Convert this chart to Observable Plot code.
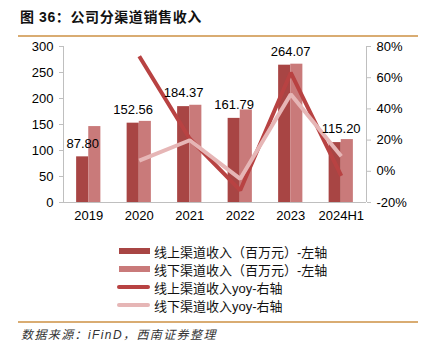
<!DOCTYPE html>
<html>
<head>
<meta charset="utf-8">
<script src="https://cdn.jsdelivr.net/npm/d3@7"></script>
<script src="https://cdn.jsdelivr.net/npm/@observablehq/plot@0.6"></script>
<style>
  html, body { margin: 0; padding: 0; background: #fff; }
  #wrap { position: relative; width: 426px; height: 350px; overflow: hidden; font-family: "Liberation Sans", Arial, "Noto Sans CJK SC", sans-serif; }
  #title { position: absolute; left: 20px; top: 6px; font-size: 14px; font-weight: bold; letter-spacing: 0.6px; color: #111; font-family: "Liberation Sans", Arial, "Noto Sans CJK SC", sans-serif; white-space: nowrap; }
  .hr { position: absolute; left: 18px; width: 400px; height: 2px; background: #d9ac72; }
  #source { position: absolute; left: 21px; top: 325px; font-size: 12px; font-style: italic; letter-spacing: 1.4px; color: #333; white-space: nowrap; font-family: "Liberation Sans", Arial, "Noto Sans CJK SC", sans-serif; }
  .leg { position: absolute; left: 117px; height: 18px; display: flex; align-items: center; font-size: 13px; color: #111; white-space: nowrap; font-family: "Liberation Sans", Arial, "Noto Sans CJK SC", sans-serif; }
  .sw { display: inline-block; margin-right: 4px; }
</style>
</head>
<body>
<div id="wrap">
  <div id="title"></div>
  <div class="hr" style="top:35px"></div>
  <div id="plot"></div>
  <div id="legend"></div>
  <div class="hr" style="top:321px"></div>
  <div id="source"></div>
</div>
<script>
// ---- data ----
const titleText = "图 36：公司分渠道销售收入";
const sourceText = "数据来源：iFinD，西南证券整理";
const years = ["2019", "2020", "2021", "2022", "2023", "2024H1"];
const onlineRevenue = [87.80, 152.56, 184.37, 161.79, 264.07, 115.20];
const offlineRevenue = [146, 156, 187, 178, 266, 121];
const onlineYoy = [null, 73.8, 20.9, -12.2, 63.2, -3.0];
const offlineYoy = [null, 6.8, 19.9, -4.8, 49.4, 9.6];
const leftTicks = [0, 50, 100, 150, 200, 250, 300];
const rightTicks = [-20, 0, 20, 40, 60, 80];
const seriesNames = ["线上渠道收入（百万元）-左轴", "线下渠道收入（百万元）-左轴", "线上渠道收入yoy-右轴", "线下渠道收入yoy-右轴"];

// ---- styles ----
const cOnlineBar = "#a84544";
const cOfflineBar = "#c97a7a";
const cOnlineLine = "#b84242";
const cOfflineLine = "#e6b6b6";
const axisGray = "#bfbfbf";

// map right-axis percent onto left-axis units: -20% -> 0, 80% -> 300
const pctToLeft = p => (p + 20) * 3;
const leftToPct = v => Math.round(v / 3 - 20);

const barW = 0.24;
const rows = years.map((y, i) => ({i, year: y, on: onlineRevenue[i], off: offlineRevenue[i], onY: onlineYoy[i], offY: offlineYoy[i]}));
const onLine = rows.filter(d => d.onY != null);
const offLine = rows.filter(d => d.offY != null);

document.getElementById("title").textContent = titleText;
document.getElementById("source").textContent = sourceText;

const chart = Plot.plot({
  width: 426,
  height: 225,
  marginTop: 46,
  marginBottom: 23,
  marginLeft: 63,
  marginRight: 60,
  style: {fontFamily: '"Liberation Sans", Arial, sans-serif', fontSize: "13px", color: "#000", background: "transparent", overflow: "visible"},
  x: {type: "linear", domain: [-0.5, years.length - 0.5], axis: null},
  y: {domain: [0, 300], axis: null},
  marks: [
    Plot.rect(rows, {x1: d => d.i - barW, x2: d => d.i, y1: () => 0, y2: "on", fill: cOnlineBar}),
    Plot.rect(rows, {x1: d => d.i, x2: d => d.i + barW, y1: () => 0, y2: "off", fill: cOfflineBar}),
    Plot.ruleX([-0.5, years.length - 0.5], {y1: 0, y2: 300, stroke: axisGray}),
    Plot.ruleY([0], {stroke: axisGray}),
    Plot.axisY({anchor: "left", ticks: leftTicks, tickSize: 4, tickPadding: 6, label: null, stroke: axisGray, color: "#000", fill: "#000"}),
    Plot.axisY({anchor: "right", ticks: rightTicks.map(pctToLeft), tickFormat: d => leftToPct(d) + "%", tickSize: 4, tickPadding: 6, label: null, stroke: axisGray, fill: "#000"}),
    Plot.axisX({ticks: years.map((y, i) => i), tickFormat: i => years[i], tickSize: 0, tickPadding: 8, label: null, fill: "#000"}),
    Plot.line(onLine, {x: "i", y: d => pctToLeft(d.onY), stroke: cOnlineLine, strokeWidth: 4, strokeLinecap: "butt", strokeLinejoin: "miter"}),
    Plot.line(offLine, {x: "i", y: d => pctToLeft(d.offY), stroke: cOfflineLine, strokeWidth: 4, strokeLinecap: "butt", strokeLinejoin: "miter"}),
    Plot.text(rows.slice(0, 4), {x: d => d.i - barW / 2, y: "on", text: d => d.on.toFixed(2), dy: -13.5, fill: "#000", fontSize: 13}),
    Plot.text(rows.slice(4), {x: d => d.i - barW / 2, y: "on", text: d => d.on.toFixed(2), dy: -13.5, dx: 6, fill: "#000", fontSize: 13})
  ]
});
chart.style.position = "absolute";
chart.style.left = "0px";
chart.style.top = "0px";
document.getElementById("plot").appendChild(chart);

// ---- legend ----
const legendSpecs = [
  {name: seriesNames[0], color: cOnlineBar, type: "bar"},
  {name: seriesNames[1], color: cOfflineBar, type: "bar"},
  {name: seriesNames[2], color: cOnlineLine, type: "line"},
  {name: seriesNames[3], color: cOfflineLine, type: "line"}
];
const legendTops = [242, 260, 278, 296];
const legend = document.getElementById("legend");
legendSpecs.forEach((s, k) => {
  const row = document.createElement("div");
  row.className = "leg";
  row.style.top = legendTops[k] + "px";
  const sw = document.createElement("span");
  sw.className = "sw";
  if (s.type === "bar") {
    sw.style.width = "31px"; sw.style.height = "6px"; sw.style.marginLeft = "2px";
  } else {
    sw.style.width = "33px"; sw.style.height = "4px"; sw.style.borderRadius = "2px";
  }
  sw.style.background = s.color;
  row.appendChild(sw);
  const t = document.createElement("span");
  t.textContent = s.name;
  row.appendChild(t);
  legend.appendChild(row);
});
</script>
</body>
</html>
